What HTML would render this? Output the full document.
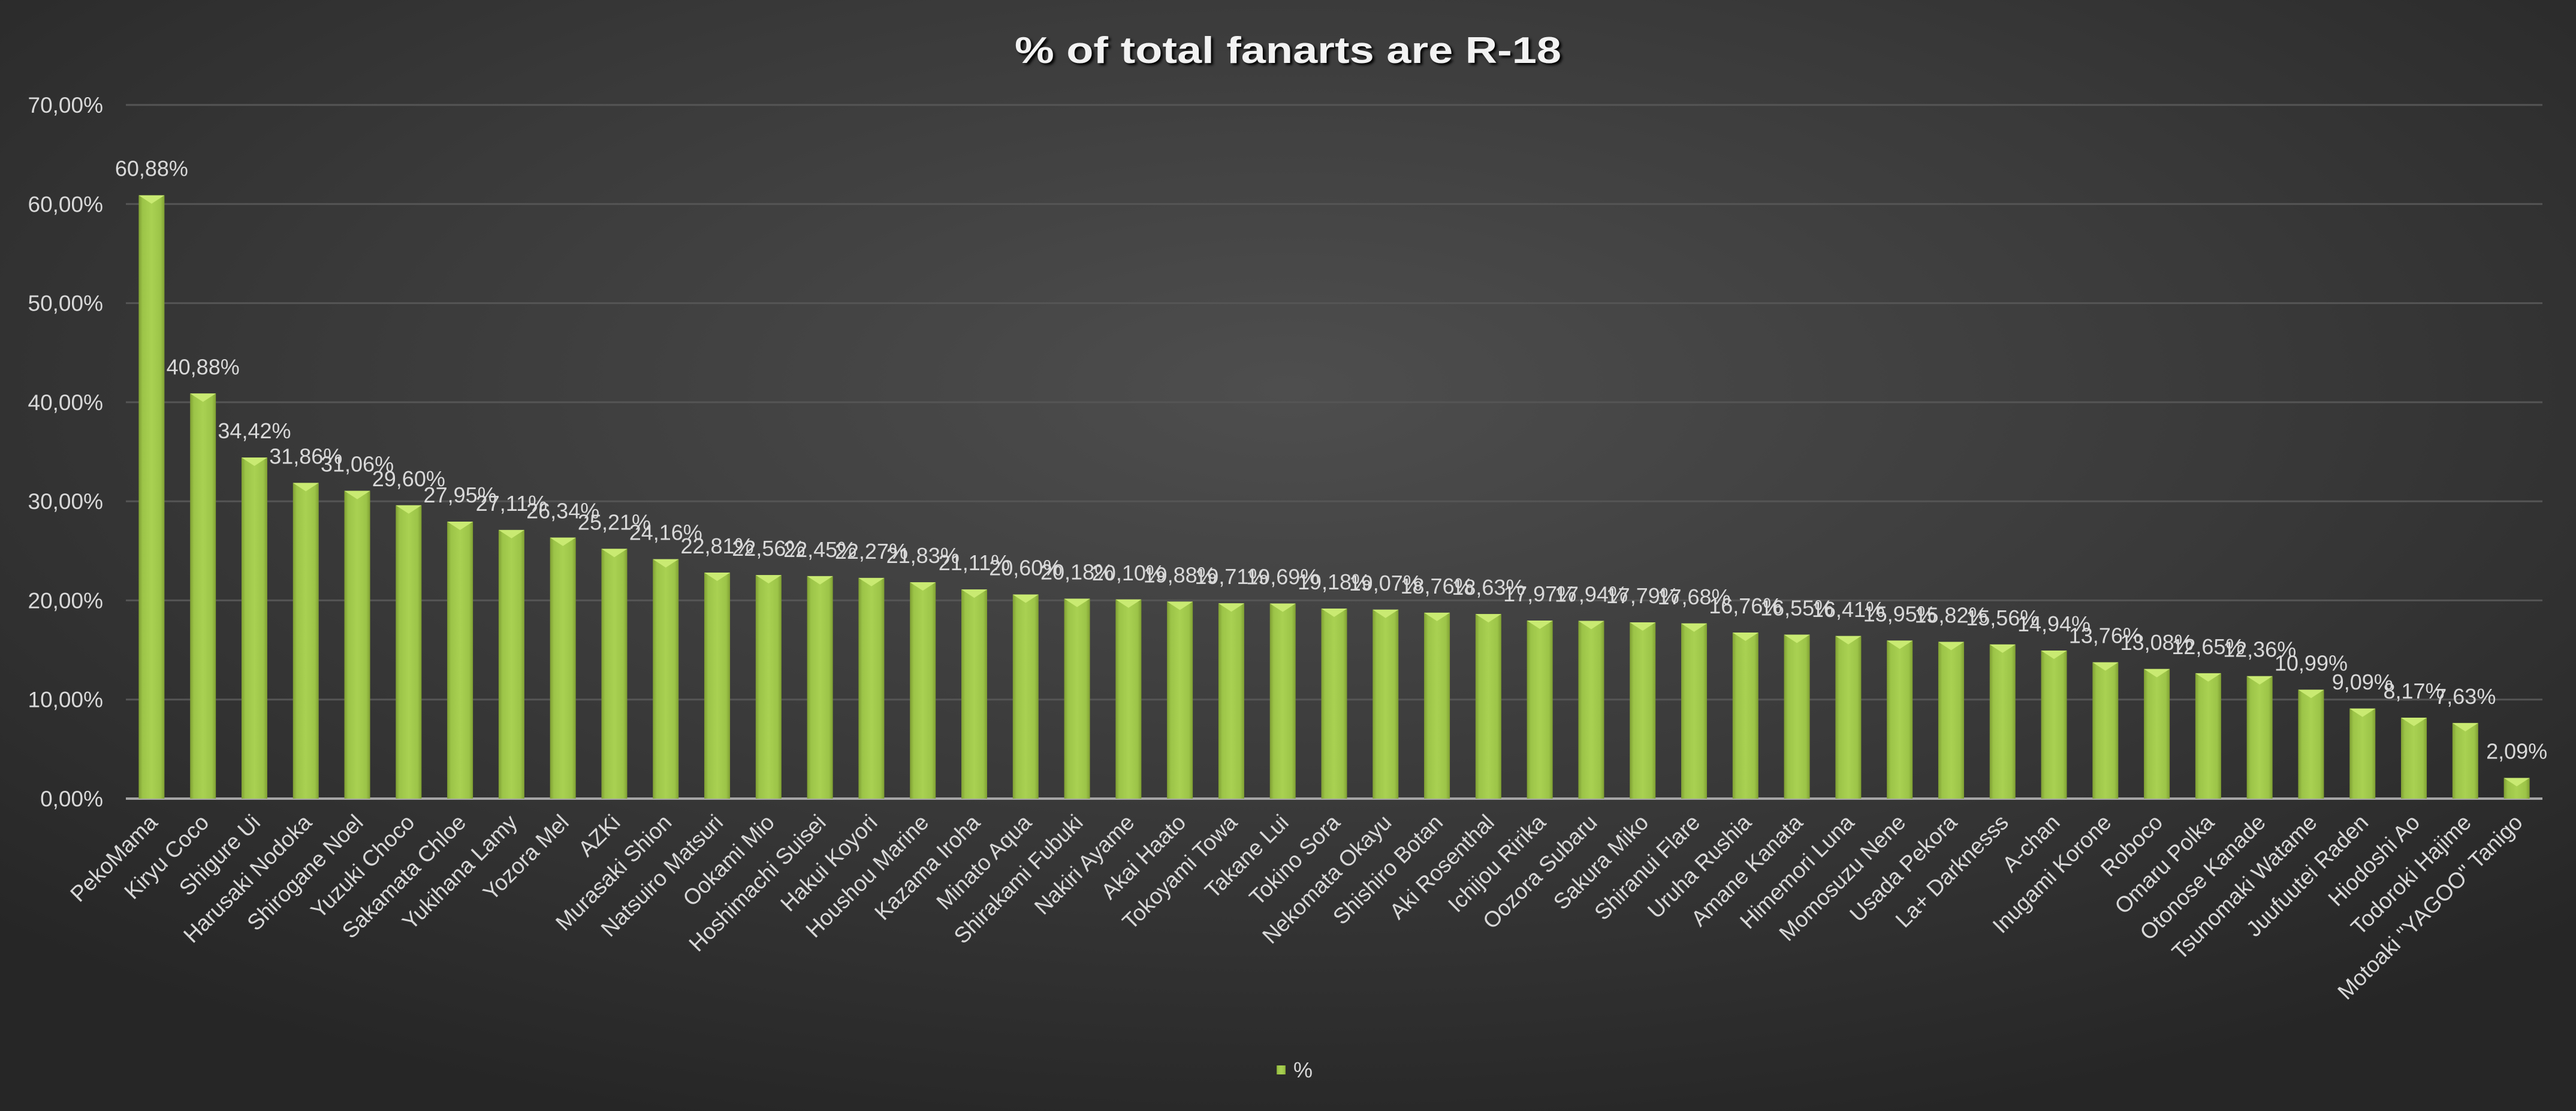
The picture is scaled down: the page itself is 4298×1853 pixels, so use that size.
<!DOCTYPE html>
<html><head><meta charset="utf-8"><style>
html,body{margin:0;padding:0;background:#2a2a2a;}
svg{display:block;font-family:"Liberation Sans",sans-serif;}
</style></head><body>
<svg id="chart" width="4298" height="1853" viewBox="0 0 4298 1853" xmlns="http://www.w3.org/2000/svg">
<defs>
<radialGradient id="bg" cx="0.5" cy="0.35" r="0.7">
<stop offset="0" stop-color="#4e4e4e"/><stop offset="0.55" stop-color="#393939"/><stop offset="1" stop-color="#262626"/>
</radialGradient>
<linearGradient id="barg" x1="0" x2="1" y1="0" y2="0">
<stop offset="0" stop-color="#7f9f33"/><stop offset="0.15" stop-color="#9cc448"/><stop offset="0.5" stop-color="#a9d152"/><stop offset="0.85" stop-color="#9cc448"/><stop offset="1" stop-color="#7f9f33"/>
</linearGradient>
</defs>
<rect x="0" y="0" width="4298" height="1853" fill="url(#bg)"/>
<text x="2149" y="105" text-anchor="middle" font-size="62" font-weight="bold" fill="#f2f2f2" textLength="912" lengthAdjust="spacingAndGlyphs" style="text-shadow:3px 3px 4px #000">% of total fanarts are R-18</text>
<g id="grid"></g><g id="bars"></g><g id="labels"></g>
<g>
<rect x="2130" y="1777" width="15" height="15" fill="url(#barg)"/>
<text x="2158" y="1797" font-size="36" fill="#d9d9d9">%</text>
</g>
</svg>
<script>
const categories=["PekoMama","Kiryu Coco","Shigure Ui","Harusaki Nodoka","Shirogane Noel","Yuzuki Choco","Sakamata Chloe","Yukihana Lamy","Yozora Mel","AZKi","Murasaki Shion","Natsuiro Matsuri","Ookami Mio","Hoshimachi Suisei","Hakui Koyori","Houshou Marine","Kazama Iroha","Minato Aqua","Shirakami Fubuki","Nakiri Ayame","Akai Haato","Tokoyami Towa","Takane Lui","Tokino Sora","Nekomata Okayu","Shishiro Botan","Aki Rosenthal","Ichijou Ririka","Oozora Subaru","Sakura Miko","Shiranui Flare","Uruha Rushia","Amane Kanata","Himemori Luna","Momosuzu Nene","Usada Pekora","La+ Darknesss","A-chan","Inugami Korone","Roboco","Omaru Polka","Otonose Kanade","Tsunomaki Watame","Juufuutei Raden","Hiodoshi Ao","Todoroki Hajime","Motoaki \"YAGOO\" Tanigo"];
const values=[60.88,40.88,34.42,31.86,31.06,29.60,27.95,27.11,26.34,25.21,24.16,22.81,22.56,22.45,22.27,21.83,21.11,20.60,20.18,20.10,19.88,19.71,19.69,19.18,19.07,18.76,18.63,17.97,17.94,17.79,17.68,16.76,16.55,16.41,15.95,15.82,15.56,14.94,13.76,13.08,12.65,12.36,10.99,9.09,8.17,7.63,2.09];
const yTicks=[0,10,20,30,40,50,60,70];
const NS="http://www.w3.org/2000/svg";
const X0=210,X1=4242,Y0=1332,YMAX=70,YTOP=175;
const band=(X1-X0)/categories.length;
const xc=i=>X0+band*(i+0.5);
const y=v=>Y0-(v/YMAX)*(Y0-YTOP);
const fmt=v=>v.toFixed(2).replace('.',',')+'%';
function mk(tag,attrs,parent){const e=document.createElementNS(NS,tag);for(const k in attrs)e.setAttribute(k,attrs[k]);parent.appendChild(e);return e;}
const grid=document.getElementById('grid'),bars=document.getElementById('bars'),labels=document.getElementById('labels');
yTicks.forEach(t=>{
  if(t>0){const l=mk('line',{x1:X0,x2:X1,y1:y(t),y2:y(t),stroke:'#555',"stroke-width":3},grid);
  
  }
  const tx=mk('text',{x:172,y:y(t)+13,"text-anchor":"end","font-size":37,fill:"#d9d9d9"},grid);
  tx.textContent=fmt(t);
  
  
});
const axis=mk('line',{x1:X0,x2:X1,y1:Y0,y2:Y0,stroke:'#a6a6a6',"stroke-width":4},grid);


const bw=43;
values.forEach((v,i)=>{
  const cx=xc(i),top=y(v);
  const g=mk('g',{},bars);
  
  
  mk('rect',{x:cx-bw/2,y:top,width:bw,height:Y0-top,fill:'url(#barg)'},g);
  mk('polygon',{points:`${cx-bw/2},${top} ${cx+bw/2},${top} ${cx},${top+14}`,fill:'#c9ea72'},g);
  const dl=mk('text',{x:cx,y:top-32,"text-anchor":"middle","font-size":36,fill:"#d9d9d9"},labels);
  dl.textContent=fmt(v);
  
  
  const lx=cx+12,ly=Y0+42;
  const cl=mk('text',{x:lx,y:ly,"text-anchor":"end","font-size":37,fill:"#d9d9d9",transform:`rotate(-45 ${lx} ${ly})`},labels);
  cl.textContent=categories[i];
  
  
});
</script>
</body></html>
